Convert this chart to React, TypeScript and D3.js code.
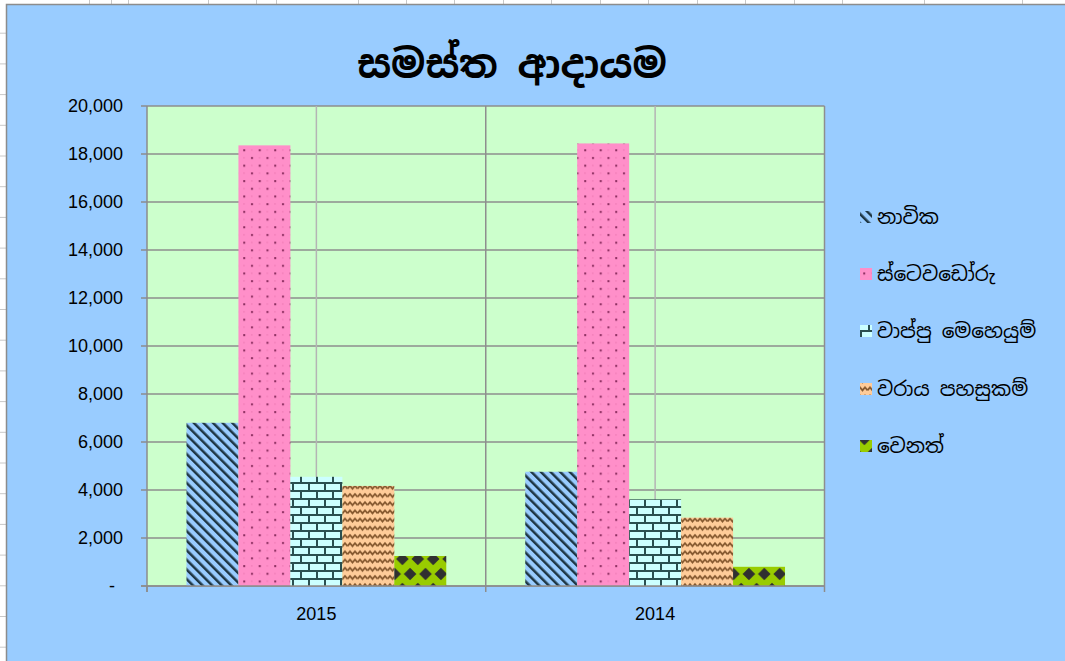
import React from "react";
import * as d3 from "d3";

const categories = ["2015", "2014"];
const seriesNames = ["නාවික", "ස්ටෙවඩෝරු", "වාප්පු මෙහෙයුම්", "වරාය පහසුකම්", "වෙනත්"];
const navika = [6800, 4760];
const stevedoru = [18360, 18440];
const vappu = [4550, 3610];
const varaya = [4170, 2850];
const wenath = [1250, 800];
const seriesValues = [navika, stevedoru, vappu, varaya, wenath];
const yTicks = [0, 2000, 4000, 6000, 8000, 10000, 12000, 14000, 16000, 18000, 20000];
const title = "සමස්ත ආදායම";

const W = 1065;
const H = 661;
const plot = { left: 147, right: 824.5, top: 106, bottom: 586 };
const sinhalaFont = "'Noto Sans Sinhala', 'Iskoola Pota', 'Noto Sans', 'DejaVu Sans', sans-serif";
const numFont = "'Liberation Sans', Arial, sans-serif";

export default function App() {
  const x0 = d3.scaleBand<string>().domain(categories).range([plot.left, plot.right]).paddingInner(0).paddingOuter(0);
  const x1 = d3
    .scaleBand<number>()
    .domain(d3.range(seriesNames.length))
    .range([0, x0.bandwidth()])
    .paddingInner(0)
    .paddingOuter(0.76);
  const y = d3.scaleLinear().domain([0, 20000]).range([plot.bottom, plot.top]);
  const fmt = d3.format(",");
  const fills = ["url(#pStripe)", "url(#pDots)", "url(#pBrick)", "url(#pWave)", "url(#pDiamond)"];
  const legendY = [217, 274, 331, 389, 446];

  const rowLines = d3.range(1, 22).map((i) => i * 30.7 + 2);
  const colLines = [89, 111, 128, 208, 256, 276, 358, 406, 454, 503, 551, 600, 648, 697, 745, 794, 842, 924, 1022];

  const catBoundaries = [plot.left, ...categories.map((c) => (x0(c) as number) + x0.bandwidth())];
  const catCenters = categories.map((c) => (x0(c) as number) + x0.bandwidth() / 2);

  const dk = "#303030";
  const diamond = (cx: number, cy: number, r: number) => `M${cx},${cy - r} L${cx + r},${cy} L${cx},${cy + r} L${cx - r},${cy} Z`;

  return (
    <svg width={W} height={H} style={{ position: "absolute", left: 0, top: 0, display: "block" }}>
      <defs>
        <pattern id="pStripe" patternUnits="userSpaceOnUse" width="6.8" height="6.8" patternTransform="rotate(-45)">
          <rect width="6.8" height="6.8" fill="#99CCFF" />
          <rect x="0" width="2.5" height="6.8" fill="#1E3644" />
        </pattern>
        <pattern id="pDots" patternUnits="userSpaceOnUse" width="15.5" height="15.4">
          <rect width="15.5" height="15.4" fill="#FF8FC9" />
          <rect x="3" y="3" width="2" height="2" fill="#8A2C5E" />
          <rect x="10.75" y="10.7" width="2" height="2" fill="#8A2C5E" />
          <rect x="10.75" y="3" width="1.5" height="1.5" fill="#F27DB8" />
          <rect x="3" y="10.7" width="1.5" height="1.5" fill="#F27DB8" />
        </pattern>
        <pattern id="pBrick" patternUnits="userSpaceOnUse" width="16" height="16" x="0" y="2">
          <rect width="16" height="16" fill="#CCFFFF" />
          <rect x="0" y="0" width="16" height="2" fill="#2A4F50" />
          <rect x="0" y="8" width="16" height="2" fill="#2A4F50" />
          <rect x="4" y="0" width="2" height="8" fill="#2A4F50" />
          <rect x="12" y="8" width="2" height="8" fill="#2A4F50" />
        </pattern>
        <pattern id="pWave" patternUnits="userSpaceOnUse" width="10" height="8.2">
          <rect width="10" height="8.2" fill="#FFCC99" />
          <path d="M0,5 L2.5,2 L5,5 L7.5,2 L10,5" fill="none" stroke="#85582E" strokeWidth="1.8" transform="translate(-2.5,0)" />
          <path d="M0,5 L2.5,2 L5,5 L7.5,2 L10,5" fill="none" stroke="#85582E" strokeWidth="1.8" transform="translate(7.5,0)" />
        </pattern>
        <pattern id="pDiamond" patternUnits="userSpaceOnUse" width="15.4" height="30" x="2" y="4">
          <rect width="15.4" height="30" fill="#99CC00" />
          <path d={diamond(7.7, 0, 6.3)} fill={dk} />
          <path d={diamond(7.7, 30, 6.3)} fill={dk} />
          <path d={diamond(0, 15, 6.3)} fill={dk} />
          <path d={diamond(15.4, 15, 6.3)} fill={dk} />
        </pattern>
      </defs>

      {/* spreadsheet background */}
      <rect x={0} y={0} width={W} height={H} fill="#FFFFFF" />
      {colLines.map((cx, i) => (
        <line key={"c" + i} x1={cx + 0.5} x2={cx + 0.5} y1={0} y2={5} stroke="#C8C8C8" />
      ))}
      {rowLines.map((ry, i) => (
        <line key={"r" + i} x1={0} x2={6} y1={ry + 0.5} y2={ry + 0.5} stroke="#C8C8C8" />
      ))}
      <rect x={6.5} y={4.5} width={W} height={H} fill="#99CCFF" stroke="#8C8C8C" strokeWidth={1.5} />

      {/* title */}
      <text x={512} y={78} textAnchor="middle" fontFamily={sinhalaFont} fontWeight="bold" fontSize={39} fill="#000">
        {title}
      </text>

      {/* plot area */}
      <rect x={plot.left} y={plot.top} width={plot.right - plot.left} height={plot.bottom - plot.top} fill="#CCFFCC" />
      {yTicks.map((t) => (
        <line key={"g" + t} x1={plot.left} x2={plot.right} y1={y(t)} y2={y(t)} stroke="#8E8E8E" strokeWidth={1.5} />
      ))}
      {catCenters.map((cx, i) => (
        <line key={"vc" + i} x1={cx} x2={cx} y1={plot.top} y2={plot.bottom} stroke="#B4B4B4" strokeWidth={1.5} />
      ))}
      {catBoundaries.slice(1).map((bx, i) => (
        <line key={"vb" + i} x1={bx} x2={bx} y1={plot.top} y2={plot.bottom} stroke="#8E8E8E" strokeWidth={1.5} />
      ))}

      {/* bars */}
      {categories.map((c, ci) => (
        <g key={c}>
          {seriesValues.map((vals, si) => {
            const bx = (x0(c) as number) + (x1(si) as number);
            return (
              <rect
                key={si}
                x={bx}
                y={y(vals[ci])}
                width={x1.bandwidth()}
                height={y(0) - y(vals[ci])}
                fill={fills[si]}
              />
            );
          })}
        </g>
      ))}

      {/* axes */}
      <line x1={plot.left} x2={plot.left} y1={plot.top} y2={plot.bottom + 6} stroke="#8C8C8C" strokeWidth={1.5} />
      <line x1={plot.left - 6} x2={plot.right} y1={plot.bottom} y2={plot.bottom} stroke="#8C8C8C" strokeWidth={1.5} />
      {yTicks.map((t) => (
        <line key={"yt" + t} x1={plot.left - 6} x2={plot.left} y1={y(t)} y2={y(t)} stroke="#8C8C8C" strokeWidth={1.5} />
      ))}
      {catBoundaries.map((bx, i) => (
        <line key={"xt" + i} x1={bx} x2={bx} y1={plot.bottom} y2={plot.bottom + 6} stroke="#8C8C8C" strokeWidth={1.5} />
      ))}
      {yTicks.map((t) => (
        <text
          key={"yl" + t}
          x={t === 0 ? 115 : 123}
          y={y(t)}
          dy="0.35em"
          textAnchor="end"
          fontFamily={numFont}
          fontSize={18}
          fill="#000"
        >
          {t === 0 ? "-" : fmt(t)}
        </text>
      ))}
      {categories.map((c, i) => (
        <text key={"xl" + c} x={catCenters[i]} y={620} textAnchor="middle" fontFamily={numFont} fontSize={18} fill="#000">
          {c}
        </text>
      ))}

      {/* legend */}
      {seriesNames.map((n, i) => (
        <g key={n}>
          <rect x={860} y={legendY[i] - 6} width={12} height={12} fill={fills[i]} />
          <text x={877} y={legendY[i]} dy="0.35em" fontFamily={sinhalaFont} fontSize={20} fill="#000">
            {n}
          </text>
        </g>
      ))}
    </svg>
  );
}
